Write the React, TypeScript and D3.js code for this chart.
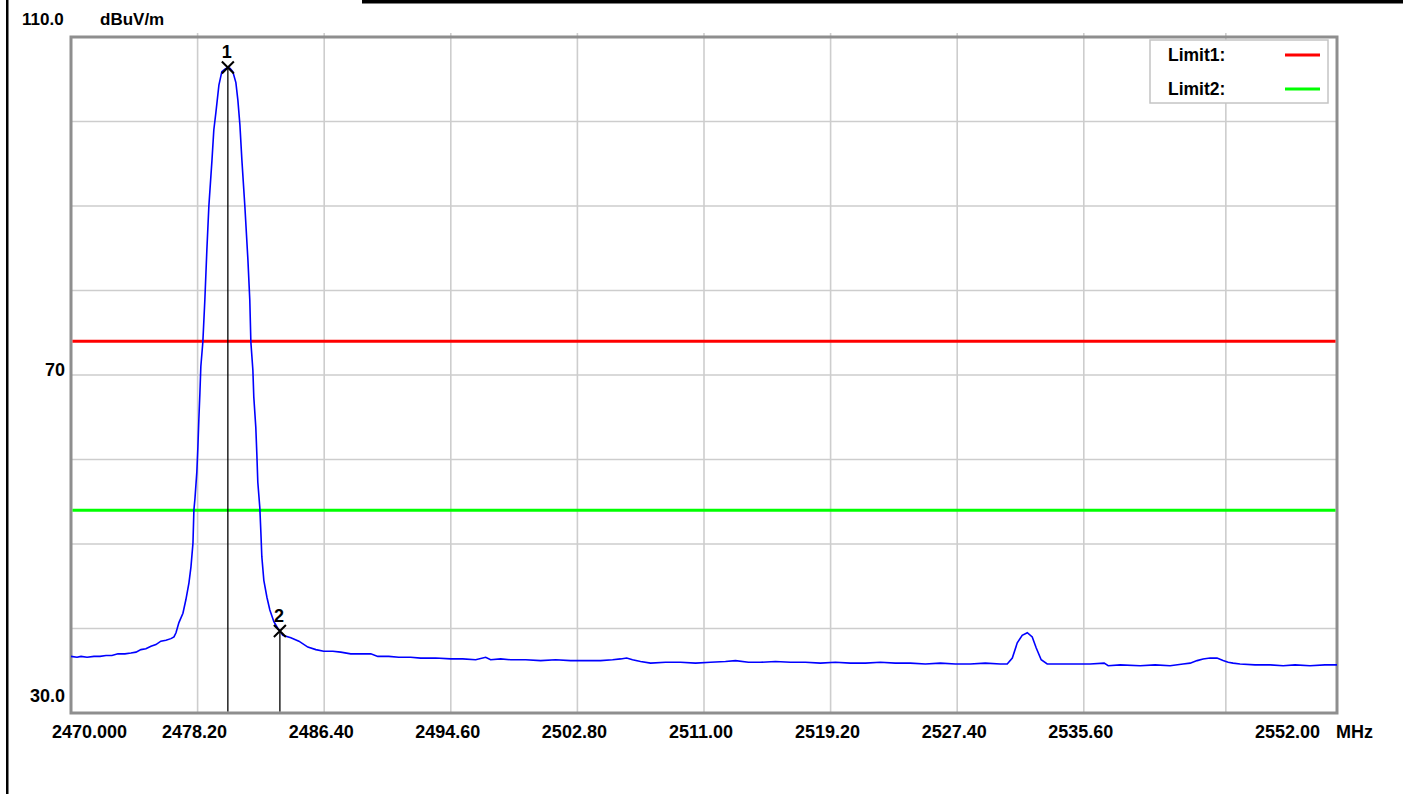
import React from 'react';
import * as d3 from 'd3';

// frequency axis (MHz) and labels, one per gridline
const xTicks = [2470, 2478.2, 2486.4, 2494.6, 2502.8, 2511, 2519.2, 2527.4, 2535.6, 2544.8, 2552];
const xTickLabels = ['2470.000', '2478.20', '2486.40', '2494.60', '2502.80', '2511.00', '2519.20', '2527.40', '2535.60', '', '2552.00'];
const yGrid = [40, 50, 60, 70, 80, 90, 100];

// limit lines (dBuV/m)
const limitNames = ['Limit1:', 'Limit2:'];
const limitValues = [74, 54];
const limitColors = ['#ff0000', '#00ff00'];

// markers
const markerNames = ['1', '2'];
const markerFreqs = [2480.16, 2483.53];
const markerLevels = [106.4, 39.7];

const traceFreqs = [
  2470.00, 2470.39, 2470.65, 2471.04, 2471.49, 2471.88, 2472.27, 2472.65, 2473.04, 2473.49,
  2473.88, 2474.21, 2474.53, 2474.85, 2475.18, 2475.50, 2475.82, 2476.15, 2476.47, 2476.67,
  2476.80, 2476.99, 2477.25, 2477.44, 2477.64, 2477.77, 2477.90, 2477.96, 2478.03, 2478.15,
  2478.22, 2478.28, 2478.35, 2478.41, 2478.54, 2478.67, 2478.80, 2478.93, 2479.13, 2479.25,
  2479.38, 2479.58, 2479.77, 2479.97, 2480.16, 2480.29, 2480.48, 2480.68, 2480.81, 2480.94,
  2481.07, 2481.26, 2481.46, 2481.58, 2481.65, 2481.78, 2481.84, 2481.97, 2482.04, 2482.10,
  2482.23, 2482.30, 2482.36, 2482.49, 2482.69, 2482.88, 2483.14, 2483.40, 2483.53, 2483.72,
  2484.24, 2484.76, 2485.34, 2485.86, 2486.37, 2486.96, 2487.47, 2488.12, 2488.77, 2489.42,
  2489.87, 2490.58, 2491.23, 2492.00, 2492.65, 2493.62, 2494.59, 2495.37, 2496.21, 2496.86,
  2497.18, 2497.83, 2498.48, 2499.45, 2500.42, 2501.39, 2502.36, 2503.33, 2504.30, 2505.08,
  2505.60, 2505.99, 2506.37, 2506.89, 2507.54, 2508.51, 2509.48, 2510.45, 2511.42, 2512.39,
  2513.04, 2513.88, 2514.66, 2515.63, 2516.60, 2517.57, 2518.54, 2519.51, 2520.48, 2521.45,
  2522.42, 2523.39, 2524.36, 2525.34, 2526.31, 2527.28, 2528.25, 2529.22, 2530.19, 2530.64,
  2530.97, 2531.29, 2531.61, 2531.94, 2532.26, 2532.52, 2532.84, 2533.23, 2534.07, 2535.04,
  2536.01, 2536.92, 2537.18, 2537.96, 2539.25, 2540.22, 2541.19, 2542.03, 2542.49, 2542.94,
  2543.33, 2543.78, 2544.23, 2544.62, 2544.95, 2545.27, 2545.72, 2546.69, 2547.67, 2548.51,
  2549.28, 2550.25, 2551.22, 2552.00,
];
const traceLevels = [
  36.7, 36.6, 36.7, 36.6, 36.7, 36.7, 36.8, 36.8, 37.0, 37.0,
  37.1, 37.2, 37.5, 37.6, 37.9, 38.1, 38.5, 38.6, 38.8, 39.0,
  39.5, 40.7, 41.8, 43.4, 45.4, 47.3, 50.1, 54.0, 55.4, 58.5,
  61.5, 64.7, 67.9, 71.0, 73.9, 78.9, 84.8, 90.0, 95.4, 99.0,
  101.0, 104.3, 105.9, 106.2, 106.4, 106.3, 105.9, 104.6, 102.5, 99.6,
  95.4, 90.0, 83.6, 78.9, 73.9, 70.6, 67.4, 63.8, 60.5, 57.3,
  54.3, 51.3, 48.5, 45.7, 43.7, 42.2, 40.8, 40.0, 39.7, 39.2,
  38.9, 38.5, 37.8, 37.5, 37.3, 37.3, 37.2, 37.0, 37.0, 37.0,
  36.7, 36.7, 36.6, 36.6, 36.5, 36.5, 36.4, 36.4, 36.3, 36.6,
  36.3, 36.4, 36.3, 36.3, 36.2, 36.3, 36.2, 36.2, 36.2, 36.3,
  36.4, 36.5, 36.3, 36.1, 35.9, 36.0, 36.0, 35.9, 36.0, 36.1,
  36.2, 36.0, 36.0, 36.1, 36.0, 36.0, 35.9, 36.0, 35.9, 35.9,
  36.0, 35.9, 35.9, 35.8, 35.9, 35.8, 35.8, 35.9, 35.8, 35.8,
  36.5, 38.3, 39.2, 39.5, 39.0, 37.7, 36.3, 35.8, 35.8, 35.8,
  35.8, 35.9, 35.6, 35.7, 35.6, 35.7, 35.6, 35.8, 35.9, 36.2,
  36.4, 36.5, 36.5, 36.2, 36.0, 35.9, 35.8, 35.7, 35.7, 35.6,
  35.7, 35.6, 35.7, 35.7,
];

const FONT = '"Liberation Sans", Arial, sans-serif';

const App = () => {
  const width = 1403;
  const height = 794;
  const left = 71;
  const right = 1337;
  const top = 37;
  const bottom = 713;

  const x = d3.scaleLinear().domain([2470, 2552]).range([left, right]);
  const y = d3.scaleLinear().domain([30, 110]).range([bottom, top]);

  const trace = traceFreqs.map((f, i) => [f, traceLevels[i]] as [number, number]);
  const line = d3.line<[number, number]>()
    .x(d => x(d[0]))
    .y(d => y(d[1]));

  const labelStyle = { fontFamily: FONT, fontWeight: 700, fontSize: 18, fill: '#000' };

  return (
    <svg
      width={width}
      height={height}
      style={{ position: 'absolute', left: 0, top: 0, background: '#fff' }}
    >
      {/* outer frame pieces */}
      <rect x={6} y={0} width={2.5} height={height} fill="#000" />
      <rect x={362} y={0} width={width - 362} height={3.5} fill="#000" />

      {/* header */}
      <text x={22} y={25} {...labelStyle} fontSize={17}>110.0</text>
      <text x={100} y={25} {...labelStyle} fontSize={17}>dBuV/m</text>

      {/* grid */}
      {xTicks.slice(1, -1).map((t, i) => (
        <line key={'gx' + i} x1={x(t)} x2={x(t)} y1={top - 4} y2={bottom}
          stroke="#cdcdcd" strokeWidth={1.6} />
      ))}
      {yGrid.map((v, i) => (
        <line key={'gy' + i} x1={left} x2={right} y1={y(v)} y2={y(v)}
          stroke="#cdcdcd" strokeWidth={1.6} />
      ))}

      {/* plot frame */}
      <rect x={left} y={top} width={right - left} height={bottom - top}
        fill="none" stroke="#8e8e8e" strokeWidth={3} />

      {/* limit lines */}
      {limitValues.map((v, i) => (
        <line key={'lim' + i} x1={left + 1.5} x2={right - 1.5} y1={y(v)} y2={y(v)}
          stroke={limitColors[i]} strokeWidth={3} />
      ))}

      {/* trace */}
      <path d={line(trace) || ''} fill="none" stroke="#0000ff" strokeWidth={1.6} />

      {/* markers */}
      {markerFreqs.map((f, i) => {
        const mx = x(f);
        const my = y(markerLevels[i]);
        return (
          <g key={'mk' + i}>
            <line x1={mx} x2={mx} y1={my} y2={bottom - 1.5} stroke="#000" strokeWidth={1.3} />
            <path d={`M${mx - 6},${my - 6}L${mx + 6},${my + 6}M${mx - 6},${my + 6}L${mx + 6},${my - 6}`}
              stroke="#000" strokeWidth={2} />
            <text x={mx - 1} y={my - 9} textAnchor="middle" {...labelStyle}>{markerNames[i]}</text>
          </g>
        );
      })}

      {/* legend */}
      <rect x={1150} y={40} width={178} height={63} fill="#fff" stroke="#c4c4c4" strokeWidth={1.5} />
      {limitNames.map((n, i) => (
        <g key={'lg' + i} transform={`translate(0,${55 + i * 34})`}>
          <text x={1168} y={6} {...labelStyle} fontSize={17.5}>{n}</text>
          <line x1={1285} x2={1320} y1={0} y2={0} stroke={limitColors[i]} strokeWidth={3} />
        </g>
      ))}

      {/* y labels */}
      <text x={65} y={y(70) + 1} textAnchor="end" {...labelStyle}>70</text>
      <text x={65} y={y(30) - 11} textAnchor="end" {...labelStyle}>30.0</text>

      {/* x labels */}
      {xTicks.map((t, i) => {
        if (!xTickLabels[i]) return null;
        let anchor = 'middle';
        let tx = x(t) - 3;
        if (i === 0) { anchor = 'start'; tx = 52; }
        if (i === xTicks.length - 1) { anchor = 'end'; tx = 1320; }
        return (
          <text key={'xl' + i} x={tx} y={738} textAnchor={anchor} {...labelStyle}>
            {xTickLabels[i]}
          </text>
        );
      })}
      <text x={1336} y={738} {...labelStyle}>MHz</text>
    </svg>
  );
};

export default App;
